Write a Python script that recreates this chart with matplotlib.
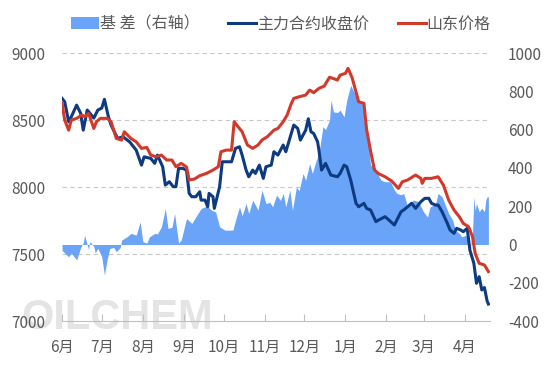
import numpy as np
import pandas as pd
import matplotlib
matplotlib.use("Agg")
import matplotlib.pyplot as plt
from matplotlib.patches import Patch
from matplotlib.lines import Line2D

plt.rcParams['font.family'] = ['Noto Sans CJK SC', 'DejaVu Sans']
plt.rcParams['axes.unicode_minus'] = False

# 主力合约收盘价 (left axis)
futures_dates = [
    "2022-06-01", "2022-06-03", "2022-06-06", "2022-06-08", "2022-06-12", "2022-06-15", "2022-06-17", "2022-06-20", "2022-06-22", "2022-06-25", "2022-06-28",
    "2022-07-01", "2022-07-03", "2022-07-06", "2022-07-08", "2022-07-13", "2022-07-17", "2022-07-22", "2022-07-27", "2022-07-31",
    "2022-08-02", "2022-08-07", "2022-08-10", "2022-08-12", "2022-08-16", "2022-08-18", "2022-08-21", "2022-08-24", "2022-08-26", "2022-08-28", "2022-08-31",
    "2022-09-03", "2022-09-05", "2022-09-07", "2022-09-10", "2022-09-13", "2022-09-14", "2022-09-17", "2022-09-19", "2022-09-20", "2022-09-23", "2022-09-24", "2022-09-28", "2022-09-30",
    "2022-10-07", "2022-10-10", "2022-10-13", "2022-10-15", "2022-10-18", "2022-10-20", "2022-10-23", "2022-10-25", "2022-10-28", "2022-10-31",
    "2022-11-02", "2022-11-06", "2022-11-08", "2022-11-11", "2022-11-15", "2022-11-17", "2022-11-20", "2022-11-23", "2022-11-26", "2022-11-28",
    "2022-12-02", "2022-12-04", "2022-12-06", "2022-12-08", "2022-12-11", "2022-12-12", "2022-12-14", "2022-12-17", "2022-12-21", "2022-12-26", "2022-12-28", "2022-12-31",
    "2023-01-02", "2023-01-05", "2023-01-09", "2023-01-11", "2023-01-15", "2023-01-17", "2023-01-20", "2023-01-24", "2023-01-26", "2023-01-31",
    "2023-02-07", "2023-02-12", "2023-02-14", "2023-02-17", "2023-02-20", "2023-02-23", "2023-02-27",
    "2023-03-02", "2023-03-05", "2023-03-07", "2023-03-10", "2023-03-12", "2023-03-15", "2023-03-19", "2023-03-21", "2023-03-24", "2023-03-26", "2023-03-29", "2023-03-31",
    "2023-04-03", "2023-04-05", "2023-04-08", "2023-04-10", "2023-04-12", "2023-04-14", "2023-04-16", "2023-04-18", "2023-04-19",
]
futures = [
    8662, 8637, 8488, 8525, 8612, 8552, 8425, 8575, 8552, 8515, 8575,
    8590, 8655, 8525, 8463, 8363, 8376, 8338, 8276, 8164,
    8226, 8214, 8177, 8239, 8152, 8015, 8040, 8003, 8003, 8140, 8140,
    8127, 7953, 7928, 7928, 7965, 7903, 7903, 7853, 7953, 7928, 7841, 8003, 8189,
    8189, 8289, 8301, 8239, 8127, 8077, 8127, 8102, 8164, 8065,
    8152, 8164, 8264, 8239, 8314, 8264, 8363, 8463, 8438, 8351,
    8425, 8510, 8413, 8401, 8338, 8276, 8127, 8177, 8090, 8077, 8102, 8164,
    8152, 8053, 7879, 7853, 7879, 7841, 7829, 7742, 7754, 7779,
    7717, 7816, 7829, 7853, 7879, 7841, 7891,
    7916, 7916, 7879, 7866, 7866, 7816, 7729, 7680, 7655, 7692, 7680, 7667,
    7692, 7530, 7431, 7282, 7331, 7232, 7250, 7150, 7127,
]

# 山东价格 (left axis)
spot_dates = [
    "2022-06-01", "2022-06-03", "2022-06-06", "2022-06-08", "2022-06-12", "2022-06-16", "2022-06-18", "2022-06-21", "2022-06-25", "2022-06-27", "2022-06-30",
    "2022-07-05", "2022-07-08", "2022-07-12", "2022-07-16", "2022-07-18", "2022-07-23", "2022-07-27", "2022-07-31",
    "2022-08-04", "2022-08-07", "2022-08-11", "2022-08-15", "2022-08-19", "2022-08-23", "2022-08-26", "2022-08-30",
    "2022-09-03", "2022-09-05", "2022-09-09", "2022-09-13", "2022-09-18", "2022-09-23", "2022-09-27", "2022-09-29",
    "2022-10-03", "2022-10-07", "2022-10-09", "2022-10-12", "2022-10-15", "2022-10-19", "2022-10-23", "2022-10-27", "2022-10-30",
    "2022-11-03", "2022-11-08", "2022-11-11", "2022-11-15", "2022-11-18", "2022-11-21", "2022-11-23", "2022-11-27",
    "2022-12-02", "2022-12-05", "2022-12-08", "2022-12-12", "2022-12-16", "2022-12-20", "2022-12-23", "2022-12-26", "2022-12-28",
    "2023-01-01", "2023-01-03", "2023-01-06", "2023-01-09", "2023-01-11", "2023-01-15", "2023-01-17", "2023-01-20", "2023-01-23", "2023-01-26", "2023-01-31",
    "2023-02-05", "2023-02-10", "2023-02-13", "2023-02-17", "2023-02-23", "2023-02-27", "2023-02-28",
    "2023-03-02", "2023-03-07", "2023-03-12", "2023-03-16", "2023-03-20", "2023-03-24", "2023-03-28", "2023-03-31",
    "2023-04-04", "2023-04-07", "2023-04-09", "2023-04-12", "2023-04-16", "2023-04-19",
]
spot = [
    8625, 8500, 8425, 8500, 8513, 8538, 8525, 8550, 8438, 8488, 8513,
    8513, 8488, 8363, 8351, 8413, 8363, 8338, 8289,
    8296, 8239, 8226, 8239, 8202, 8202, 8152, 8177,
    8150, 8053, 8060, 8085, 8102, 8127, 8152, 8264,
    8276, 8276, 8488, 8450, 8413, 8314, 8289, 8314, 8351,
    8376, 8425, 8438, 8488, 8538, 8620, 8662, 8674,
    8687, 8724, 8705, 8737, 8754, 8820, 8810, 8799, 8836,
    8849, 8886, 8818, 8711, 8637, 8625, 8430, 8270, 8127, 8100, 8077,
    8045, 7990, 8040, 8053, 8090, 8065, 8028,
    8065, 8065, 8077, 8015, 7903, 7829, 7779, 7729,
    7704, 7630, 7505, 7431, 7418, 7369,
]

# 基差 (right axis)
basis_dates = [
    "2022-06-01", "2022-06-02", "2022-06-06", "2022-06-08", "2022-06-12", "2022-06-15", "2022-06-17", "2022-06-18", "2022-06-21", "2022-06-22", "2022-06-25", "2022-06-26", "2022-06-28",
    "2022-07-01", "2022-07-03", "2022-07-05", "2022-07-07", "2022-07-10", "2022-07-12", "2022-07-15", "2022-07-16", "2022-07-20", "2022-07-23", "2022-07-27", "2022-07-30",
    "2022-08-01", "2022-08-04", "2022-08-06", "2022-08-10", "2022-08-12", "2022-08-15", "2022-08-18", "2022-08-20", "2022-08-23", "2022-08-25", "2022-08-28", "2022-08-30",
    "2022-09-03", "2022-09-07", "2022-09-10", "2022-09-14", "2022-09-17", "2022-09-19", "2022-09-22", "2022-09-25", "2022-09-28",
    "2022-10-02", "2022-10-08", "2022-10-10", "2022-10-13", "2022-10-15", "2022-10-18", "2022-10-20", "2022-10-23", "2022-10-27", "2022-10-30",
    "2022-11-02", "2022-11-05", "2022-11-07", "2022-11-10", "2022-11-13", "2022-11-15", "2022-11-17", "2022-11-20", "2022-11-22", "2022-11-25", "2022-11-27", "2022-11-30",
    "2022-12-02", "2022-12-05", "2022-12-07", "2022-12-10", "2022-12-12", "2022-12-15", "2022-12-17", "2022-12-20", "2022-12-21", "2022-12-23", "2022-12-26", "2022-12-28", "2022-12-31",
    "2023-01-02", "2023-01-05", "2023-01-08", "2023-01-10", "2023-01-13", "2023-01-15", "2023-01-17", "2023-01-20", "2023-01-23", "2023-01-25", "2023-01-28", "2023-01-31",
    "2023-02-04", "2023-02-07", "2023-02-09", "2023-02-12", "2023-02-14", "2023-02-17", "2023-02-19", "2023-02-21", "2023-02-25",
    "2023-03-01", "2023-03-04", "2023-03-06", "2023-03-10", "2023-03-12", "2023-03-15", "2023-03-18", "2023-03-20", "2023-03-23", "2023-03-25", "2023-03-28", "2023-03-30",
    "2023-04-02", "2023-04-04", "2023-04-05", "2023-04-07", "2023-04-08", "2023-04-09", "2023-04-10", "2023-04-12", "2023-04-14", "2023-04-16", "2023-04-17", "2023-04-18", "2023-04-19",
]
basis = [
    -30, -38, -64, -44, -81, -17, 10, 49, -26, 15, -10, -44, -20,
    -64, -160, -81, -21, -15, -38, -15, 23, 40, 58, 49, 118,
    15, 7, 40, 58, 55, 92, 188, 84, 90, 162, 7, 23,
    136, 110, 144, 188, 197, 197, 179, 170, 92,
    75, 75, 127, 197, 150, 214, 162, 232, 180, 284,
    214, 220, 197, 258, 230, 267, 197, 284, 179, 301, 280, 371,
    336, 423, 371, 441, 476, 615, 600, 650, 754, 693, 690, 702, 667,
    754, 832, 789, 754, 745, 740, 615, 415, 406, 371, 336, 328,
    328, 284, 267, 260, 267, 197, 205, 232, 225,
    171, 144, 197, 210, 267, 249, 197, 162, 127, 75, 58, 40,
    49, 7, -30, 58, 249, 179, 214, 171, 190, 171, 232, 249, 249,
]

months = ["2022-06-01", "2022-07-01", "2022-08-01", "2022-09-01", "2022-10-01", "2022-11-01",
          "2022-12-01", "2023-01-01", "2023-02-01", "2023-03-01", "2023-04-01"]
month_labels = ["6月", "7月", "8月", "9月", "10月", "11月", "12月", "1月", "2月", "3月", "4月"]

fd = pd.to_datetime(futures_dates)
sd = pd.to_datetime(spot_dates)
bd = pd.to_datetime(basis_dates)

grey = '#595959'
fig = plt.figure(figsize=(5.54, 3.69), dpi=100)

# watermark behind the axes
fig.text(21 / 554, 1 - 318 / 369, "OILCHEM", fontsize=30, fontweight='bold',
         color='#d6d6d6', alpha=0.65, family='Liberation Sans', va='center', ha='left',
         zorder=-1)

ax1 = fig.add_axes([0.112, 0.130, 0.772, 0.726])
ax2 = ax1.twinx()

# basis area under the lines
ax2.fill_between(bd, 0, basis, color='#6aa4f8', linewidth=0)
ax2.set_ylim(-400, 1000)
ax2.set_yticks(np.arange(-400, 1001, 200))

ax1.set_zorder(ax2.get_zorder() + 1)
ax1.patch.set_visible(False)
ax1.plot(fd, futures, color='#0e3a80', lw=2.2, solid_joinstyle='round')
ax1.plot(sd, spot, color='#d2392b', lw=2.2, solid_joinstyle='round')
ax1.set_ylim(7000, 9000)
ax1.set_yticks([7000, 7500, 8000, 8500, 9000])
ax1.set_xlim(pd.Timestamp("2022-06-01"), pd.Timestamp("2023-04-20"))

ax1.set_xticks(pd.to_datetime(months))
ax1.set_xticklabels(month_labels)

for y in [7500, 8000, 8500, 9000]:
    ax2.axhline(-400 + (y - 7000) * 0.7, color='#c8c8c8', lw=0.8, ls=(0, (4, 3)), zorder=0)

for ax in (ax1, ax2):
    for s in ('top', 'left', 'right'):
        ax.spines[s].set_visible(False)
ax2.spines['bottom'].set_visible(False)
ax1.spines['bottom'].set_color('#bfbfbf')

ax1.tick_params(axis='x', direction='in', length=5, color='#bfbfbf', labelsize=11, labelcolor=grey, pad=13)
ax1.tick_params(axis='y', length=0, labelsize=11, labelcolor=grey, pad=12)
ax2.tick_params(axis='y', length=0, labelsize=11, labelcolor=grey, pad=13)

handles = [Patch(facecolor='#6aa4f8'),
           Line2D([], [], color='#0e3a80', lw=2.2),
           Line2D([], [], color='#d2392b', lw=2.2)]
fig.legend(handles, ["基 差（右轴）", "主力合约收盘价", "山东价格"], loc='center',
           bbox_to_anchor=(281 / 554, 1 - 24 / 369), ncol=3, frameon=False,
           fontsize=11.5, labelcolor=grey, handlelength=1.75, handleheight=0.7,
           handletextpad=0.05, columnspacing=1.8)

fig.savefig("out.png", dpi=100)
